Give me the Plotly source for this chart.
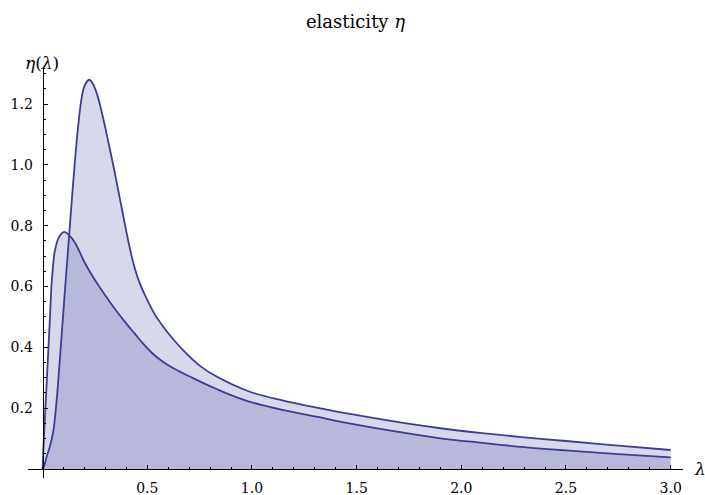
import plotly.graph_objects as go

# ---- data ----
lam_a = [0, 0.008, 0.019, 0.035, 0.051, 0.067, 0.080, 0.095, 0.110, 0.125, 0.140,
         0.155, 0.170, 0.185, 0.200, 0.222, 0.24, 0.26, 0.28, 0.30, 0.32, 0.34,
         0.36, 0.38, 0.40, 0.42, 0.44, 0.46, 0.49, 0.53, 0.576, 0.62, 0.672,
         0.75, 0.831, 0.99, 1.15, 1.309, 1.468, 1.7, 1.9, 2.1, 2.3, 2.5, 2.75, 3.0]
eta_a = [0, 0.012, 0.04, 0.075, 0.125, 0.227, 0.34, 0.48, 0.62, 0.755, 0.89,
         1.02, 1.13, 1.215, 1.26, 1.28, 1.267, 1.232, 1.18, 1.12, 1.055, 0.99,
         0.92, 0.85, 0.78, 0.715, 0.66, 0.618, 0.57, 0.515, 0.468, 0.43, 0.39,
         0.34, 0.304, 0.254, 0.225, 0.202, 0.181, 0.154, 0.134, 0.118, 0.104,
         0.092, 0.077, 0.0625]

lam_b = [0, 0.003, 0.011, 0.019, 0.027, 0.035, 0.043, 0.059, 0.08, 0.103, 0.125,
         0.154, 0.2, 0.24, 0.28, 0.32, 0.36, 0.40, 0.44, 0.48, 0.52, 0.56, 0.60,
         0.65, 0.70, 0.76, 0.831, 0.9, 0.99, 1.15, 1.309, 1.42, 1.7, 1.9, 2.1,
         2.3, 2.5, 2.75, 3.0]
eta_b = [0, 0.06, 0.172, 0.28, 0.39, 0.50, 0.61, 0.72, 0.765, 0.78, 0.77,
         0.745, 0.68, 0.632, 0.59, 0.55, 0.513, 0.478, 0.445, 0.412, 0.383, 0.36,
         0.341, 0.322, 0.305, 0.285, 0.263, 0.243, 0.221, 0.194, 0.172, 0.156,
         0.122, 0.101, 0.086, 0.072, 0.061, 0.049, 0.0385]

x_ticks = [0.5, 1.0, 1.5, 2.0, 2.5, 3.0]
x_ticktext = ["0.5", "1.0", "1.5", "2.0", "2.5", "3.0"]
y_ticks = [0.2, 0.4, 0.6, 0.8, 1.0, 1.2]
y_ticktext = ["0.2", "0.4", "0.6", "0.8", "1.0", "1.2"]

# ---- style ----
LINE = "rgb(61,61,153)"
FILL = "rgba(61,61,153,0.2)"
FONT = "DejaVu Serif"

xr = [-0.07, 3.059]
yr = [-0.0296, 1.322]

fig = go.Figure()
for lx, ly in ((lam_a, eta_a), (lam_b, eta_b)):
    fig.add_trace(go.Scatter(
        x=lx, y=ly, mode="lines", fill="tozeroy", fillcolor=FILL,
        line=dict(color=LINE, width=1.8, shape="spline", smoothing=1.0),
        hoverinfo="skip", showlegend=False))

fig.update_layout(
    width=705, height=495,
    margin=dict(l=28, r=22, t=67, b=17, autoexpand=False),
    paper_bgcolor="white", plot_bgcolor="white",
    showlegend=False,
    title=dict(text="elasticity <i>η</i>", x=0.5, xref="paper", xanchor="center",
               y=1 - 22 / 495, yref="container", yanchor="middle",
               automargin=False,
               font=dict(family=FONT, size=18, color="black")),
    xaxis=dict(range=xr, anchor="free", position=(0 - yr[0]) / (yr[1] - yr[0]),
               automargin=False,
               showgrid=False, zeroline=False, showline=True, linecolor="black",
               linewidth=1, ticks="inside", ticklen=4, tickcolor="black",
               tickmode="array", tickvals=x_ticks, ticktext=x_ticktext,
               tickfont=dict(family=FONT, size=14, color="black"),
               ticklabelstandoff=6,
               minor=dict(tickmode="linear", tick0=0, dtick=0.1, ticks="inside",
                          ticklen=2, tickcolor="black")),
    yaxis=dict(range=yr, anchor="free", position=(0 - xr[0]) / (xr[1] - xr[0]),
               automargin=False,
               showgrid=False, zeroline=False, showline=True, linecolor="black",
               linewidth=1, ticks="inside", ticklen=4, tickcolor="black",
               tickmode="array", tickvals=y_ticks, ticktext=y_ticktext,
               tickfont=dict(family=FONT, size=14, color="black"),
               ticklabelstandoff=7,
               minor=dict(tickmode="linear", tick0=0, dtick=0.05, ticks="inside",
                          ticklen=2, tickcolor="black")),
)

fig.add_annotation(text="<i>η</i>(<i>λ</i>)", x=(42 - 28) / 655, xref="paper",
                   y=1.0097, yref="paper",
                   xanchor="center", yanchor="middle", showarrow=False,
                   font=dict(family=FONT, size=17, color="black"))
fig.add_annotation(text="<i>λ</i>", x=(692 - 28) / 655, xref="paper",
                   y=(0 - yr[0]) / (yr[1] - yr[0]), yref="paper",
                   xanchor="left", yanchor="middle", showarrow=False,
                   font=dict(family=FONT, size=17, color="black"))

fig.write_html("out.html", config={"displayModeBar": False},
               post_script="document.body.style.margin='0px';")
